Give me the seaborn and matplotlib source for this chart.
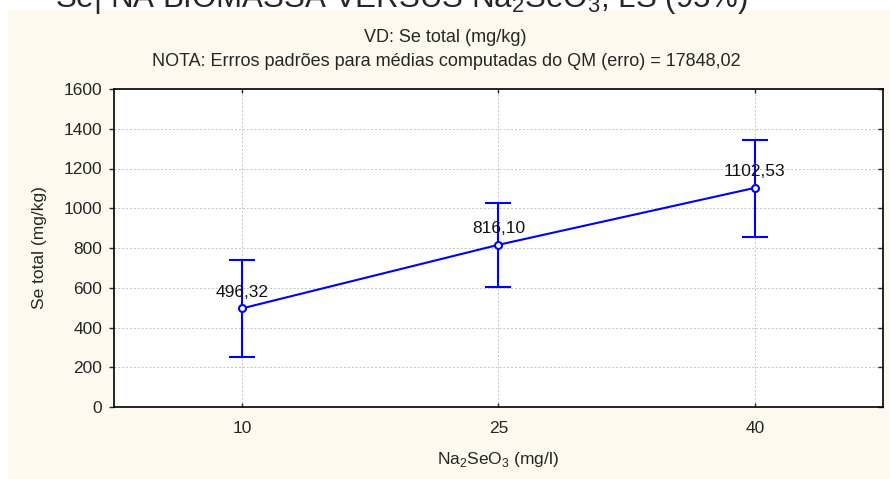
import numpy as np
import pandas as pd
import matplotlib
matplotlib.use("Agg")
import matplotlib.pyplot as plt
import seaborn as sns
from matplotlib.patches import Rectangle

# data
doses = ["10", "25", "40"]
means = [496.32, 816.10, 1102.53]
upper = [740, 1027, 1345]
lower = [250, 603, 856]
y_ticks = [0, 200, 400, 600, 800, 1000, 1200, 1400, 1600]

sns.set_style("white")
plt.rcParams["font.family"] = ["Liberation Sans", "DejaVu Sans"]
plt.rcParams["mathtext.fontset"] = "custom"
plt.rcParams["mathtext.rm"] = "Liberation Sans"

df = pd.DataFrame({"dose": doses, "se_total": means})

fig = plt.figure(figsize=(8.9, 4.79), dpi=100, facecolor="white")
fig.patches.append(Rectangle((8 / 890, 0), 1, 1 - 10 / 479, transform=fig.transFigure,
                             facecolor="#fdf9ee", edgecolor="none", zorder=-10))
ax = fig.add_axes([114 / 890, 72 / 479, 769 / 890, 318 / 479])
ax.set_zorder(1)
ax.set_facecolor("white")

blue = "#0000ff"
x = np.arange(len(doses))
m = np.array(means)
ax.errorbar(x, m, yerr=[m - np.array(lower), np.array(upper) - m], fmt="none",
            ecolor=blue, elinewidth=1.5, capsize=9.5, capthick=1.5, zorder=3)
sns.pointplot(data=df, x="dose", y="se_total", order=doses, color=blue, errorbar=None,
              markers="o", markersize=5, linewidth=1.5, ax=ax,
              markerfacecolor="white", markeredgewidth=1.5, zorder=4)

for xi, val in zip(x, means):
    ax.annotate(f"{val:.2f}".replace(".", ","), (xi, val), xytext=(0, 11.5),
                textcoords="offset points", ha="center", va="center", fontsize=12.5,
                color="#111111", zorder=5)

ax.set_xlim(-0.5, 2.5)
ax.set_ylim(0, 1600)
ax.set_yticks(y_ticks)
ax.grid(True, color="#c4c4c4", linestyle=(0, (2, 2)), linewidth=0.7)
ax.set_axisbelow(True)
for s in ax.spines.values():
    s.set_visible(True)
    s.set_color("black")
    s.set_linewidth(1.2)
ax.tick_params(axis="y", which="both", left=True, right=True, direction="out", length=3.5,
               width=1, labelsize=12.5, pad=5)
ax.tick_params(axis="x", bottom=True, top=True, direction="in", length=3, width=1,
               labelsize=12.5, pad=10)
for t in ax.yaxis.get_major_ticks():
    t.tick2line.set_marker(matplotlib.lines.TICKLEFT)
ax.set_xlabel("Na$_2$SeO$_3$ (mg/l)", fontsize=12.5, labelpad=10)
ax.set_ylabel("Se total (mg/kg)", fontsize=12.5, labelpad=12)

fig.text(445 / 890, 1 - 37 / 479, "VD: Se total (mg/kg)", ha="center", va="center", fontsize=13)
fig.text(446 / 890, 1 - 62 / 479,
         "NOTA: Errros padrões para médias computadas do QM (erro) = 17848,02",
         ha="center", va="center", fontsize=13)
fig.text(748 / 890, 1 - 7 / 479, "Se| NA BIOMASSA VERSUS Na$_2$SeO$_3$, LS (95%)",
         ha="right", va="baseline", fontsize=22.5)

fig.savefig("out.png", dpi=100)
